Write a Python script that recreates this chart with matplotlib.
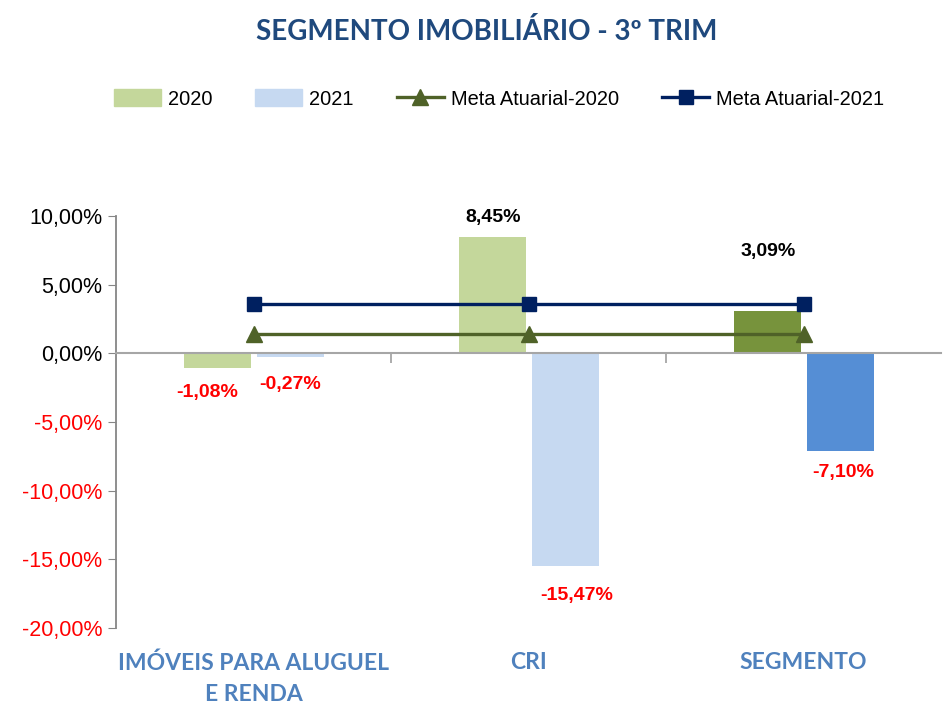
import numpy as np
import matplotlib
matplotlib.use("Agg")
import matplotlib.pyplot as plt
import matplotlib.transforms as mtransforms
from matplotlib.patches import Patch
from matplotlib.lines import Line2D

plt.rcParams["font.family"] = ["Liberation Sans", "DejaVu Sans"]

# dados do segmento imobiliário (3º trimestre)
categorias = ["IMÓVEIS PARA ALUGUEL\nE RENDA", "CRI", "SEGMENTO"]
ret_2020 = [-1.08, 8.45, 3.09]
ret_2021 = [-0.27, -15.47, -7.10]
meta_2020 = [1.41, 1.41, 1.41]
meta_2021 = [3.57, 3.57, 3.57]
yticks = [10, 5, 0, -5, -10, -15, -20]

cor_2020 = ["#C4D79B", "#C4D79B", "#77933C"]
cor_2021 = ["#C6D9F1", "#C6D9F1", "#558ED5"]
# deslocamento dos rótulos (px)
off_2020 = [(-11, -24), (0, 20), (0, 59)]
off_2021 = [(-1, -27), (11, -30), (3, -22)]

PX = 0.72  # px -> pt em dpi 100

fig = plt.figure(figsize=(9.43, 7.04), dpi=100)
ax = fig.add_axes([116 / 943, 1 - 628 / 704, 825 / 943, 412 / 704])

x = np.arange(len(categorias))
w = 0.245
ax.bar(x - 0.13, ret_2020, w, color=cor_2020, zorder=2)
ax.bar(x + 0.135, ret_2021, w, color=cor_2021, zorder=2)
ax.plot(x, meta_2020, color="#4F6228", lw=2.4, marker="^", ms=11, zorder=3)
ax.plot(x, meta_2021, color="#002060", lw=2.4, marker="s", ms=10, zorder=4)

def fmt(v):
    return f"{v:.2f}%".replace(".", ",")

for xs, vals, offs in [(x - 0.13, ret_2020, off_2020), (x + 0.135, ret_2021, off_2021)]:
    for xi, v, (dx, dy) in zip(xs, vals, offs):
        ax.annotate(fmt(v), (xi, v), xytext=(dx * PX, dy * PX), textcoords="offset points",
                    ha="center", va="center", fontsize=14, fontweight="bold",
                    color="black" if v > 0 else "#FF0000")

ax.set_xlim(-0.5, 2.5)
ax.set_ylim(-20, 10)
ax.set_yticks(yticks)
ax.set_yticklabels([fmt(t) for t in yticks], fontsize=15.5)
for lab, t in zip(ax.get_yticklabels(), yticks):
    lab.set_color("#FF0000" if t < 0 else "black")
ax.tick_params(axis="y", direction="out", length=6, color="#868686", pad=4)

ax.spines["top"].set_visible(False)
ax.spines["right"].set_visible(False)
ax.spines["left"].set_color("#868686")
ax.spines["left"].set_linewidth(1.3)
ax.spines["bottom"].set_position(("data", 0))
ax.spines["bottom"].set_color("#A6A6A6")
ax.spines["bottom"].set_linewidth(1.5)
ax.set_xticks([0.5, 1.5])
ax.set_xticklabels([])
ax.tick_params(axis="x", direction="out", length=7, color="#A6A6A6", width=1.3)

trans = mtransforms.blended_transform_factory(ax.transData, fig.transFigure)
for xi, c in zip(x, categorias):
    ax.text(xi, 1 - 652 / 704, c, transform=trans, ha="center", va="top",
            fontsize=16.5, fontweight="bold", color="#4F81BD", linespacing=1.6,
            family=["Lato", "DejaVu Sans"])

fig.text(0.516, 1 - 31 / 704, "SEGMENTO IMOBILIÁRIO - 3º TRIM", ha="center", va="center",
         fontsize=20, fontweight="bold", color="#1F497D", family=["Lato", "DejaVu Sans"])

handles = [
    Patch(color="#C4D79B", label="2020"),
    Patch(color="#C6D9F1", label="2021"),
    Line2D([], [], color="#4F6228", lw=2.4, marker="^", ms=11, label="Meta Atuarial-2020"),
    Line2D([], [], color="#002060", lw=2.4, marker="s", ms=10, label="Meta Atuarial-2021"),
]
fig.legend(handles=handles, loc="center", bbox_to_anchor=(499 / 943, 1 - 99 / 704), ncol=4,
           frameon=False, fontsize=14.4, handlelength=2.35, handleheight=0.9,
           columnspacing=2.15, handletextpad=0.35, borderpad=0)

fig.savefig("out.png", dpi=100)
